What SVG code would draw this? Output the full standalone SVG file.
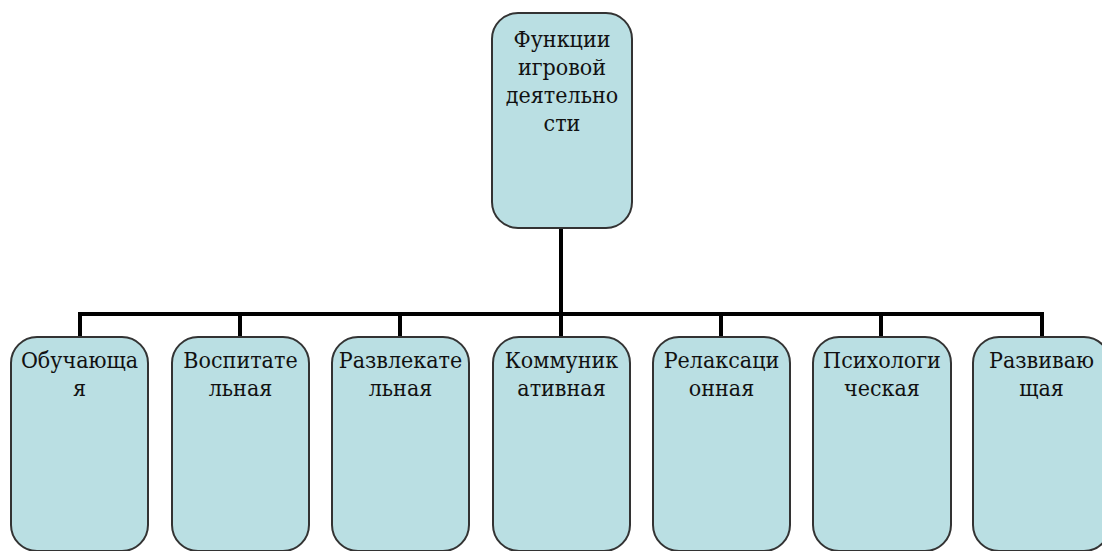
<svg xmlns="http://www.w3.org/2000/svg" width="1102" height="551" viewBox="0 0 1102 551">
<style>
.box{fill:#BADFE3;stroke:#333;stroke-width:2}
.lbl{font-family:'DejaVu Serif Condensed','DejaVu Serif',serif;font-stretch:condensed;font-size:23px;fill:#111;text-anchor:middle}
.conn{fill:none;stroke:#000;stroke-width:4;stroke-linecap:square}
</style>
<rect width="1102" height="551" fill="#fff"/>
<g id="connectors">
<path class="conn" d="M561,229 V314 M80,314 H1042 M80,314 V336 M240,314 V336 M400,314 V336 M561,314 V336 M721,314 V336 M881,314 V336 M1042,314 V336"/>
</g>
<g id="root">
<rect class="box" x="492" y="13" width="140" height="215" rx="26"/>
<text class="lbl" x="562" y="47">Функции</text>
<text class="lbl" x="562" y="75">игровой</text>
<text class="lbl" x="562" y="103">деятельно</text>
<text class="lbl" x="562" y="131">сти</text>
</g>
<g id="n1">
<rect class="box" x="11" y="337" width="137" height="214" rx="26"/>
<text class="lbl" x="79.5" y="368">Обучающа</text>
<text class="lbl" x="79.5" y="396">я</text>
</g>
<g id="n2">
<rect class="box" x="172" y="337" width="137" height="214" rx="26"/>
<text class="lbl" x="240.5" y="368">Воспитате</text>
<text class="lbl" x="240.5" y="396">льная</text>
</g>
<g id="n3">
<rect class="box" x="332" y="337" width="137" height="214" rx="26"/>
<text class="lbl" x="400.5" y="368">Развлекате</text>
<text class="lbl" x="400.5" y="396">льная</text>
</g>
<g id="n4">
<rect class="box" x="493" y="337" width="137" height="214" rx="26"/>
<text class="lbl" x="561.5" y="368">Коммуник</text>
<text class="lbl" x="561.5" y="396">ативная</text>
</g>
<g id="n5">
<rect class="box" x="653" y="337" width="137" height="214" rx="26"/>
<text class="lbl" x="721.5" y="368">Релаксаци</text>
<text class="lbl" x="721.5" y="396">онная</text>
</g>
<g id="n6">
<rect class="box" x="813" y="337" width="138" height="214" rx="26"/>
<text class="lbl" x="882" y="368">Психологи</text>
<text class="lbl" x="882" y="396">ческая</text>
</g>
<g id="n7">
<rect class="box" x="973" y="337" width="137" height="214" rx="26"/>
<text class="lbl" x="1041.5" y="368">Развиваю</text>
<text class="lbl" x="1041.5" y="396">щая</text>
</g>
</svg>
